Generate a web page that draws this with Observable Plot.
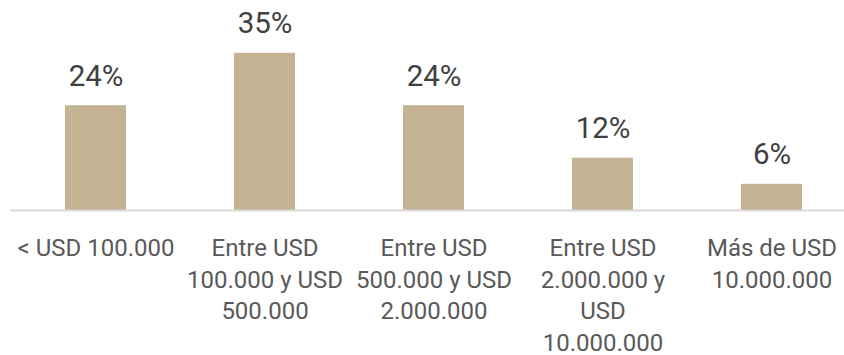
<!DOCTYPE html>
<html>
<head>
<meta charset="utf-8">
<script src="https://cdn.jsdelivr.net/npm/d3@7"></script>
<script src="https://cdn.jsdelivr.net/npm/@observablehq/plot@0.6"></script>
<style>
  html, body { margin: 0; padding: 0; background: #ffffff; }
  #chart svg { display: block; }
</style>
</head>
<body>
<div id="chart"></div>
<script>
const categories = [
  "< USD 100.000",
  "Entre USD\n100.000 y USD\n500.000",
  "Entre USD\n500.000 y USD\n2.000.000",
  "Entre USD\n2.000.000 y\nUSD\n10.000.000",
  "Más de USD\n10.000.000"
];
const values = [23.6, 35.4, 23.6, 11.8, 5.9];
const valueLabels = ["24%", "35%", "24%", "12%", "6%"];

const data = categories.map((c, i) => ({category: c, value: values[i], label: valueLabels[i]}));

const chart = Plot.plot({
  width: 844,
  height: 355,
  marginLeft: 10,
  marginRight: -13.5,
  marginTop: 0,
  marginBottom: 145,
  style: {fontFamily: "Roboto, sans-serif", background: "#ffffff"},
  x: {domain: categories, paddingInner: 0.64, paddingOuter: 0.32, axis: null},
  y: {domain: [0, 210 / 4.44], axis: null},
  marks: [
    Plot.barY(data, {x: "category", y: "value", fill: "#C4B393"}),
    Plot.ruleY([0], {stroke: "#D9D9D9", strokeWidth: 2}),
    Plot.text(data, {x: "category", y: "value", text: "label", lineAnchor: "bottom", dy: -20, fontSize: 29.5, fill: "#404040"}),
    Plot.text(data, {x: "category", text: "category", frameAnchor: "bottom", lineAnchor: "top", dy: 23, lineHeight: 1.32, fontSize: 24, fill: "#595959"})
  ]
});
document.getElementById("chart").appendChild(chart);
</script>
</body>
</html>
